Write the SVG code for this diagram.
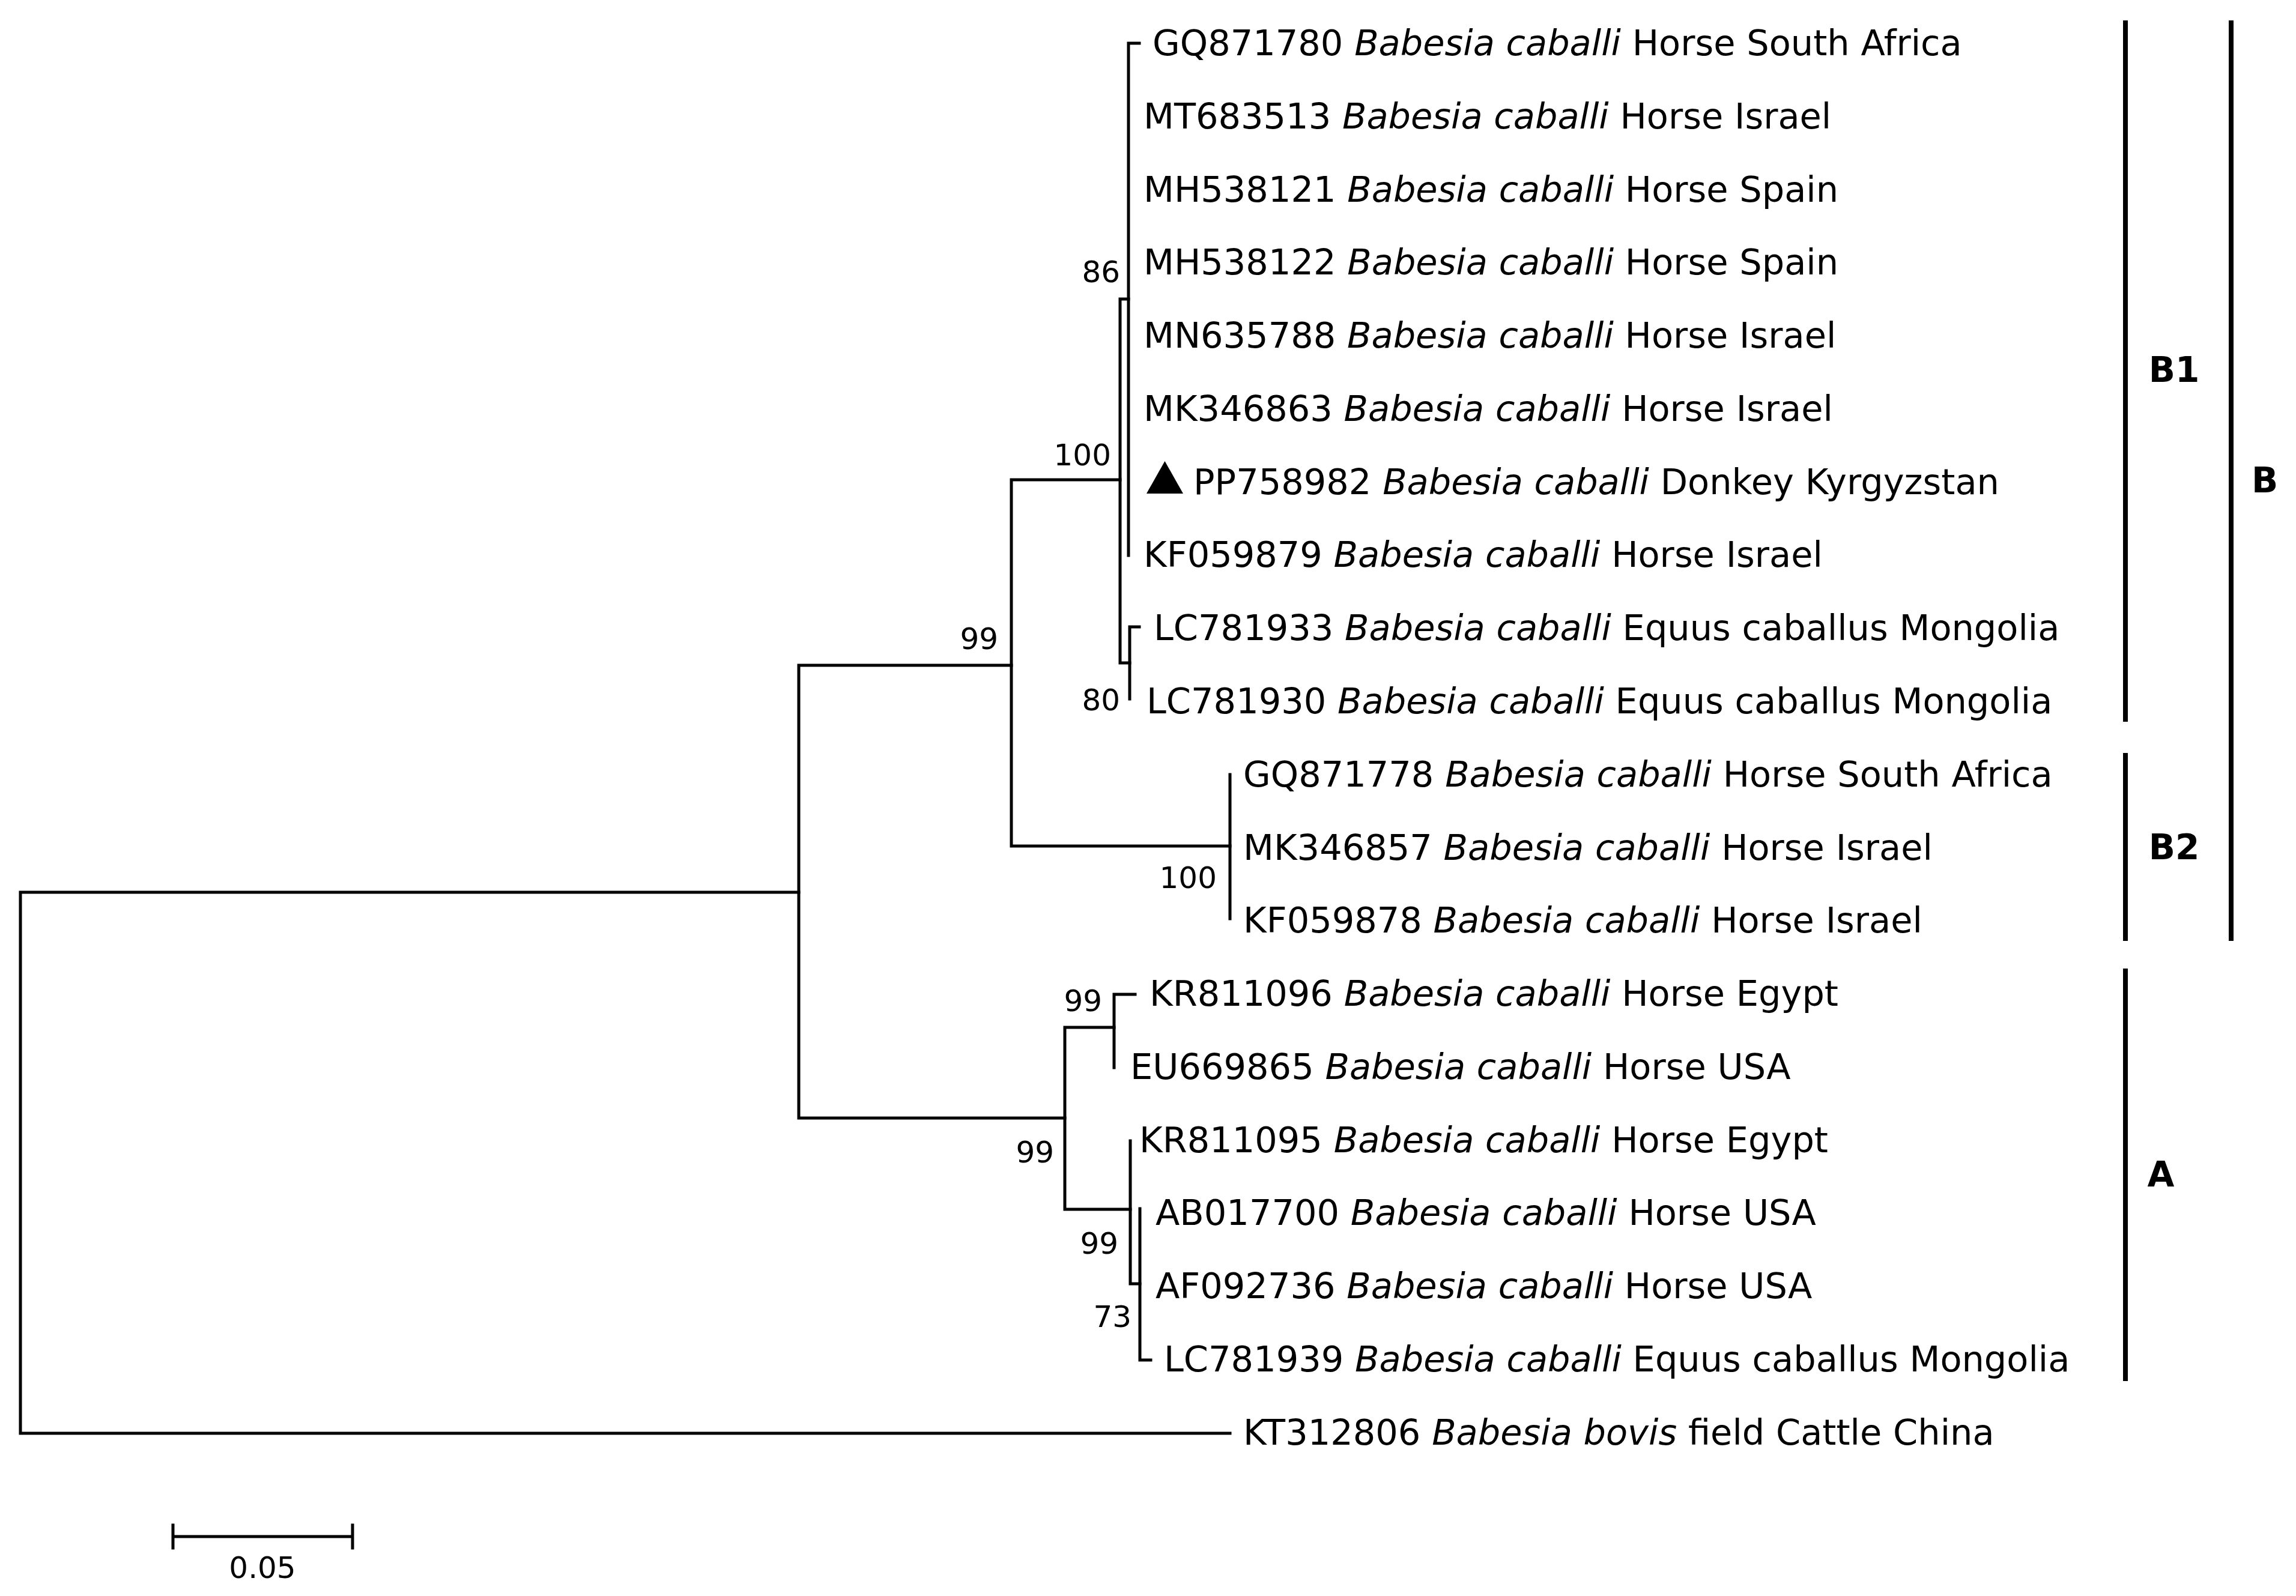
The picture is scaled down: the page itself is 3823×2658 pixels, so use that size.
<svg xmlns="http://www.w3.org/2000/svg" width="3823" height="2658" viewBox="0 0 3823 2658">
<style>
.l{font-family:"DejaVu Sans",Verdana,sans-serif;font-size:59px;fill:#000}
.i{font-style:italic}
.bs{font-family:"DejaVu Sans",Verdana,sans-serif;font-size:50px;fill:#000;text-anchor:end}
.cl{font-family:"DejaVu Sans",Verdana,sans-serif;font-size:58px;font-weight:bold;fill:#000;text-anchor:middle}
.e{stroke:#000;stroke-width:5;fill:none;stroke-linecap:square}
.bar{stroke:#000;stroke-width:8}
</style>
<rect width="3823" height="2658" fill="#fff"/>
<g id="connectors" class="e">
<path d="M34 1486V2387M34 1486H1330M34 2387H2048"/>
<path d="M1330 1108V1862M1330 1108H1684M1330 1862H1773"/>
<path d="M1684 799V1409M1684 799H1865M1684 1409H2048"/>
<path d="M1865 498V1104M1865 498H1879M1865 1104H1881"/>
<path d="M1879 72V925M1879 72H1897"/>
<path d="M1881 1044V1164M1881 1044H1897"/>
<path d="M2048 1290V1530"/>
<path d="M1773 1711V2014M1773 1711H1855M1773 2014H1882"/>
<path d="M1855 1656V1778M1855 1656H1890"/>
<path d="M1882 1900V2138M1882 2138H1898"/>
<path d="M1898 2013V2265M1898 2265H1916"/>
</g>
<g id="bootstrap">
<text class="bs" x="1865" y="470">86</text>
<text class="bs" x="1850" y="775">100</text>
<text class="bs" x="1662" y="1081">99</text>
<text class="bs" x="1865" y="1183">80</text>
<text class="bs" x="2026" y="1479">100</text>
<text class="bs" x="1835" y="1684">99</text>
<text class="bs" x="1755" y="1936">99</text>
<text class="bs" x="1862" y="2088">99</text>
<text class="bs" x="1884" y="2210">73</text>
</g>
<g id="leaves">
<text id="n0" class="l" x="1919" y="92">GQ871780 <tspan class="i">Babesia caballi</tspan> Horse South Africa</text>
<text id="n1" class="l" x="1904" y="214">MT683513 <tspan class="i">Babesia caballi</tspan> Horse Israel</text>
<text id="n2" class="l" x="1904" y="336">MH538121 <tspan class="i">Babesia caballi</tspan> Horse Spain</text>
<text id="n3" class="l" x="1904" y="457">MH538122 <tspan class="i">Babesia caballi</tspan> Horse Spain</text>
<text id="n4" class="l" x="1904" y="579">MN635788 <tspan class="i">Babesia caballi</tspan> Horse Israel</text>
<text id="n5" class="l" x="1904" y="701">MK346863 <tspan class="i">Babesia caballi</tspan> Horse Israel</text>
<g id="n6"><polygon points="1909,822 1970,822 1939.5,768" fill="#000"/>
<text class="l" x="1987" y="823">PP758982 <tspan class="i">Babesia caballi</tspan> Donkey Kyrgyzstan</text></g>
<text id="n7" class="l" x="1904" y="944">KF059879 <tspan class="i">Babesia caballi</tspan> Horse Israel</text>
<text id="n8" class="l" x="1921" y="1066">LC781933 <tspan class="i">Babesia caballi</tspan> Equus caballus Mongolia</text>
<text id="n9" class="l" x="1909" y="1188">LC781930 <tspan class="i">Babesia caballi</tspan> Equus caballus Mongolia</text>
<text id="n10" class="l" x="2070" y="1310">GQ871778 <tspan class="i">Babesia caballi</tspan> Horse South Africa</text>
<text id="n11" class="l" x="2070" y="1432">MK346857 <tspan class="i">Babesia caballi</tspan> Horse Israel</text>
<text id="n12" class="l" x="2070" y="1553">KF059878 <tspan class="i">Babesia caballi</tspan> Horse Israel</text>
<text id="n13" class="l" x="1914" y="1675">KR811096 <tspan class="i">Babesia caballi</tspan> Horse Egypt</text>
<text id="n14" class="l" x="1882" y="1797">EU669865 <tspan class="i">Babesia caballi</tspan> Horse USA</text>
<text id="n15" class="l" x="1897" y="1919">KR811095 <tspan class="i">Babesia caballi</tspan> Horse Egypt</text>
<text id="n16" class="l" x="1924" y="2040">AB017700 <tspan class="i">Babesia caballi</tspan> Horse USA</text>
<text id="n17" class="l" x="1924" y="2162">AF092736 <tspan class="i">Babesia caballi</tspan> Horse USA</text>
<text id="n18" class="l" x="1938" y="2284">LC781939 <tspan class="i">Babesia caballi</tspan> Equus caballus Mongolia</text>
<text id="n19" class="l" x="2070" y="2406">KT312806 <tspan class="i">Babesia bovis</tspan> field Cattle China</text>
</g>
<g id="clades">
<line class="bar" x1="3539" y1="34" x2="3539" y2="1202"/>
<line class="bar" x1="3539" y1="1254" x2="3539" y2="1567"/>
<line class="bar" x1="3539" y1="1613" x2="3539" y2="2300"/>
<line class="bar" x1="3715" y1="34" x2="3715" y2="1567"/>
<text class="cl" x="3620" y="636">B1</text>
<text class="cl" x="3620" y="1431">B2</text>
<text class="cl" x="3598" y="1976">A</text>
<text class="cl" x="3771" y="820">B</text>
</g>
<g id="scale">
<path class="e" d="M288 2559H587M288 2540V2578M587 2540V2578"/>
<text class="l" x="437" y="2628" text-anchor="middle" style="font-size:50px">0.05</text>
</g>
</svg>
